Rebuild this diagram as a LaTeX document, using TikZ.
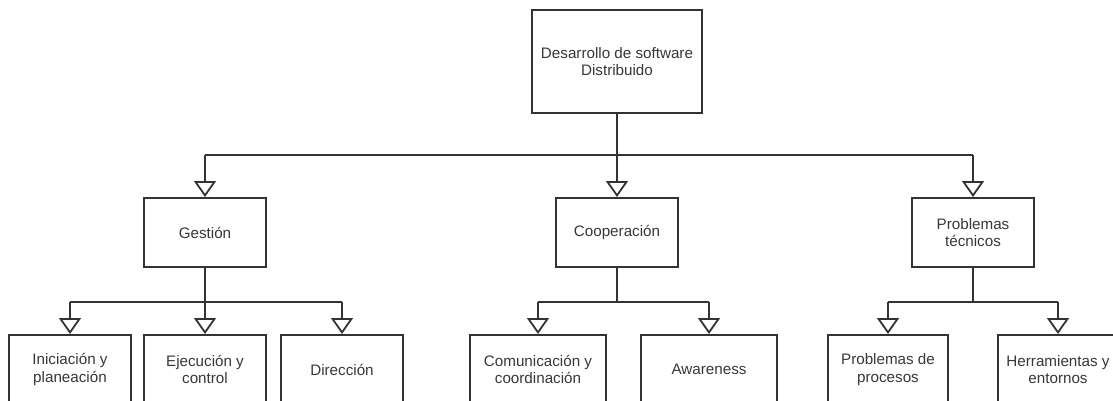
\documentclass[tikz,border=0pt]{standalone}
\usepackage{fontspec}
\setmainfont{Liberation Sans}
\usetikzlibrary{arrows.meta}
\begin{document}
\begin{tikzpicture}[x=1pt,y=1pt,
  box/.style={draw=black!80, line width=2pt, fill=white, inner sep=0pt,
    align=center, font=\fontsize{15.2}{17.5}\selectfont, text=black!78},
  link/.style={draw=black!80, line width=2pt,
    -{Triangle[open, length=16pt, width=22pt, line width=1.8pt]}},
  plain/.style={draw=black!80, line width=2pt}]
\useasboundingbox (0,0) rectangle (1113,-401);
\clip (0,0) rectangle (1113,-401);

% root
\node[box, minimum width=170pt, minimum height=103pt] (root) at (617,-61.5)
  {Desarrollo de software\\Distribuido};

% first level
\node[box, minimum width=122pt, minimum height=69pt] (ges) at (205,-232.5) {Gestión};
\node[box, minimum width=122pt, minimum height=69pt] (coop) at (617,-232.5) {Cooperación};
\node[box, minimum width=122pt, minimum height=69pt] (tec) at (973,-232.5) {Problemas\\técnicos};

% second level
\node[box, minimum width=122pt, minimum height=69pt] (ini) at (70,-369.5) {Iniciación y\\planeación};
\node[box, minimum width=122pt, minimum height=69pt] (eje) at (205,-369.5) {Ejecución y\\control};
\node[box, minimum width=122pt, minimum height=69pt] (dir) at (342,-369.5) {Dirección};
\node[box, minimum width=136pt, minimum height=69pt] (com) at (538,-369.5) {Comunicación y\\coordinación};
\node[box, minimum width=136pt, minimum height=69pt] (awa) at (709,-369.5) {Awareness};
\node[box, minimum width=120pt, minimum height=69pt] (proc) at (888,-369.5) {Problemas de\\procesos};
\node[box, minimum width=120pt, minimum height=69pt] (herr) at (1058,-369.5) {Herramientas y\\entornos};

% junction levels of the trunk lines
\coordinate (j1) at (0,-155);
\coordinate (j2) at (0,-302);
\coordinate (rj) at (root.south |- j1);
\coordinate (gj) at (ges.south |- j2);
\coordinate (cj) at (coop.south |- j2);
\coordinate (tj) at (tec.south |- j2);

% root -> first level
\draw[plain] (root.south) -- (rj);
\draw[plain] (ges.north |- rj) -- (tec.north |- rj);
\draw[link] (ges.north |- rj) -- (ges.north);
\draw[link] (rj) -- (coop.north);
\draw[link] (tec.north |- rj) -- (tec.north);

% Gestión -> children
\draw[plain] (ges.south) -- (gj);
\draw[plain] (ini.north |- gj) -- (dir.north |- gj);
\draw[link] (ini.north |- gj) -- (ini.north);
\draw[link] (gj) -- (eje.north);
\draw[link] (dir.north |- gj) -- (dir.north);

% Cooperación -> children
\draw[plain] (coop.south) -- (cj);
\draw[plain] (com.north |- cj) -- (awa.north |- cj);
\draw[link] (com.north |- cj) -- (com.north);
\draw[link] (awa.north |- cj) -- (awa.north);

% Problemas técnicos -> children
\draw[plain] (tec.south) -- (tj);
\draw[plain] (proc.north |- tj) -- (herr.north |- tj);
\draw[link] (proc.north |- tj) -- (proc.north);
\draw[link] (herr.north |- tj) -- (herr.north);
\end{tikzpicture}
\end{document}
